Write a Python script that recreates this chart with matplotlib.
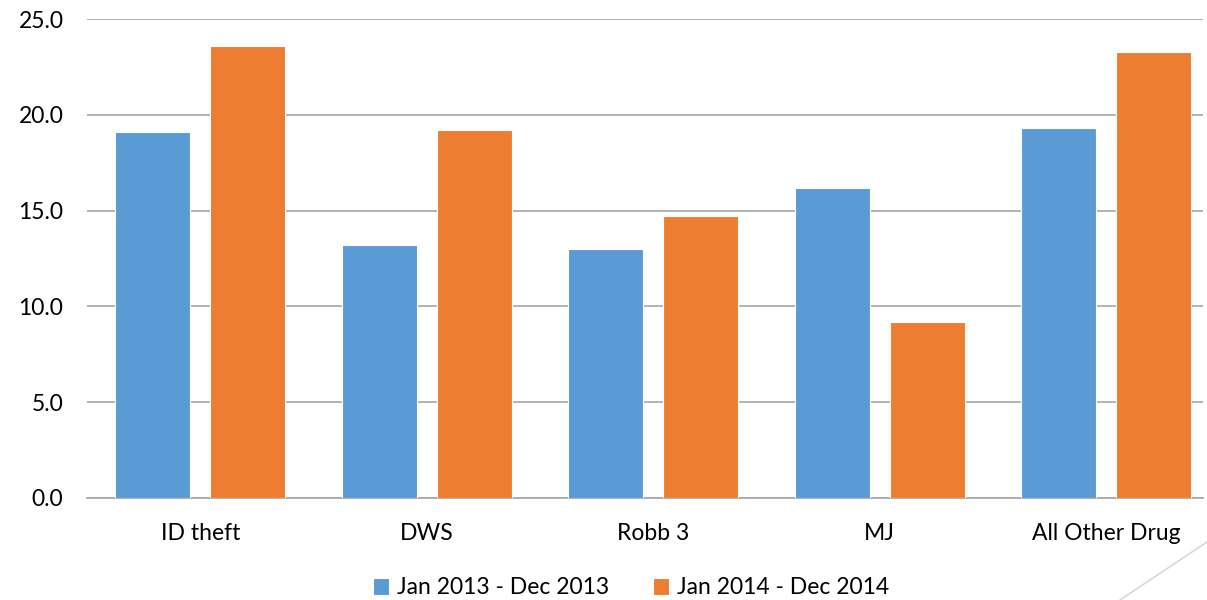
import matplotlib.pyplot as plt
from matplotlib.lines import Line2D
import numpy as np

categorias = ["ID theft", "DWS", "Robb 3", "MJ", "All Other Drug"]
serie_2013 = [19.1, 13.2, 13.0, 16.2, 19.3]
serie_2014 = [23.6, 19.2, 14.7, 9.2, 23.3]
rotulos = ["Jan 2013 - Dec 2013", "Jan 2014 - Dec 2014"]

plt.rcParams['font.family'] = ['Lato', 'DejaVu Sans']

fig = plt.figure(figsize=(12.07, 6.0), dpi=100)
ax = fig.add_axes([87 / 1207, 0.17, (1203 - 87) / 1207, 0.7983])

x = np.arange(len(categorias))
largura = 0.332
ax.bar(x - 0.21, serie_2013, largura, color="#5B9BD5", edgecolor="white", linewidth=0.8,
       label=rotulos[0], zorder=3)
ax.bar(x + 0.21, serie_2014, largura, color="#ED7D31", edgecolor="white", linewidth=0.8,
       label=rotulos[1], zorder=3)

ax.set_xlim(-0.5, 4.427)
ax.set_ylim(0, 25)
ax.set_yticks(np.arange(0, 25.1, 5))
ax.set_yticklabels([f"{v:.1f}" for v in np.arange(0, 25.1, 5)])
ax.set_xticks(x)
ax.set_xticklabels(categorias)
ax.grid(axis="y", color="#a6a6a6", linewidth=1.2, zorder=0)
ax.tick_params(length=0, labelsize=16.5, colors="black")
ax.tick_params(axis="x", pad=18)
ax.tick_params(axis="y", pad=17)
for s in ["top", "right", "left"]:
    ax.spines[s].set_visible(False)
ax.spines["bottom"].set_color("#a6a6a6")
ax.spines["bottom"].set_linewidth(1.2)

fig.legend(loc="center", bbox_to_anchor=(0.523, 0.02), ncol=2, frameon=False,
           fontsize=16.5, handlelength=0.7, handleheight=0.7, handletextpad=0.35,
           columnspacing=1.9)

# linha decorativa do canto
fig.add_artist(Line2D([1120 / 1207, 1.0], [0.0, 1 - 542 / 600], color="#d9d9d9", linewidth=1.2))

plt.savefig("out.png")
